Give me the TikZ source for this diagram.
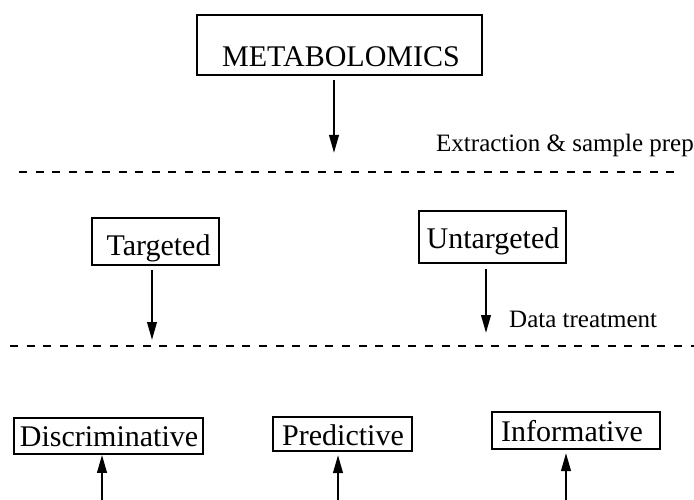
\documentclass[tikz,border=0pt]{standalone}
\usepackage{fontspec}
\setmainfont{Liberation Serif}
\usetikzlibrary{arrows.meta}
\begin{document}
\begin{tikzpicture}[x=1pt,y=-1pt,
  box/.style={draw,line width=1.6pt,inner sep=0pt},
  bigtxt/.style={anchor=base,inner sep=0pt,font=\fontsize{30}{36}\selectfont},
  smalltxt/.style={anchor=base west,inner sep=0pt,font=\fontsize{25}{30}\selectfont},
  arr/.style={line width=2.3pt,-{Triangle[length=18pt,width=9.5pt]}},
  sep/.style={line width=1.6pt,dash pattern=on 8pt off 8.6pt}]
\useasboundingbox (0,0) rectangle (694,500);
\fill[white] (0,0) rectangle (694,500);
% boxes
\node[box,minimum width=285pt,minimum height=60pt] (met) at (339.5,45) {};
\node[bigtxt] (mettxt) at (341,67) {METABOLOMICS};
\node[box,minimum width=127pt,minimum height=47pt] (tar) at (155.5,241.5) {};
\node[bigtxt] (tartxt) at (158.5,255) {Targeted};
\node[box,minimum width=147pt,minimum height=52pt] (unt) at (492.5,237) {};
\node[bigtxt] (unttxt) at (493,248) {Untargeted};
\node[box,minimum width=189pt,minimum height=36pt] (dis) at (108.5,436) {};
\node[bigtxt] (distxt) at (109,446) {Discriminative};
\node[box,minimum width=139pt,minimum height=34pt] (pre) at (342.5,434) {};
\node[bigtxt] (pretxt) at (343,445) {Predictive};
\node[box,minimum width=168pt,minimum height=37pt] (inf) at (576,430.5) {};
\node[bigtxt] (inftxt) at (572,441) {Informative};
% labels
\node[smalltxt] (ext) at (436,152) {Extraction \& sample prep};
\node[smalltxt] (dat) at (509,327) {Data treatment};
% separators
\coordinate (s1a) at (19,172);
\coordinate (s1b) at (680,172);
\coordinate (s2a) at (10,346);
\coordinate (s2b) at (694,346);
\draw[sep] (s1a) -- (s1b);
\draw[sep] (s2a) -- (s2b);
% arrows
\coordinate (m1) at (334,80);
\coordinate (m2) at (334,153);
\draw[arr] (m1) -- (m2);
\coordinate (t1) at (152,270);
\coordinate (t2) at (152,340);
\draw[arr] (t1) -- (t2);
\coordinate (u1) at (486,269);
\coordinate (u2) at (486,333);
\draw[arr] (u1) -- (u2);
\coordinate (d1) at (102,500);
\draw[arr] (d1) -- (dis.south -| d1);
\coordinate (p1) at (338,500);
\coordinate (p2) at (338,455);
\draw[arr] (p1) -- (p2);
\coordinate (i1) at (566,500);
\coordinate (i2) at (566,453);
\draw[arr] (i1) -- (i2);
\end{tikzpicture}
\end{document}
